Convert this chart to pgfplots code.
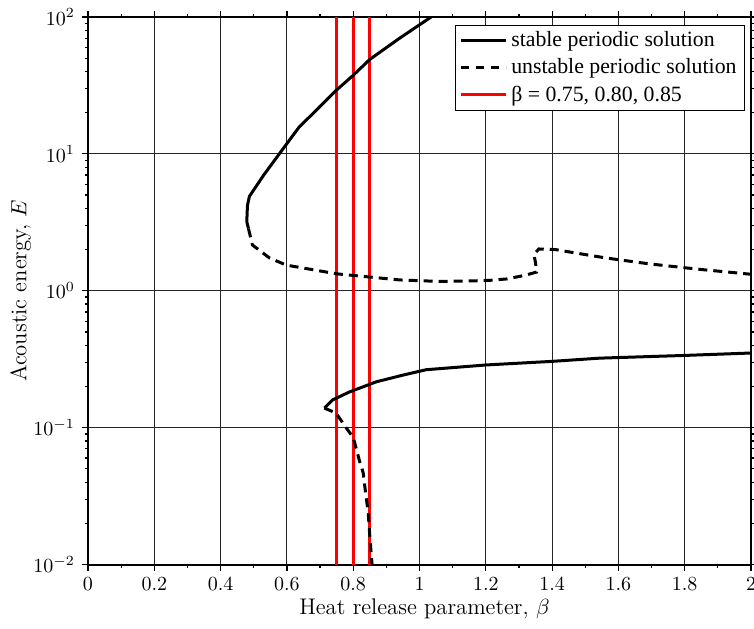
\documentclass[border=0pt]{standalone}
\usepackage{fontspec}
\newfontfamily\timesfont{Liberation Serif}
\usepackage{pgfplots}
\pgfplotsset{compat=1.18}
\begin{document}
\begin{tikzpicture}
\begin{axis}[
  scale only axis,
  width=331.5pt, height=273.75pt,
  xmin=0, xmax=2, ymode=log, ymin=1e-2, ymax=1e2,
  xtick={0,0.2,0.4,0.6,0.8,1,1.2,1.4,1.6,1.8,2},
  minor x tick num=1,
  ytick={1e-2,1e-1,1,1e1,1e2},
  grid=major,
  major grid style={black!85, line width=0.5pt},
  axis line style={line width=1pt},
  every tick/.style={black, line width=0.6pt},
  major tick length=3pt, minor tick length=1.5pt,
  tick align=outside,
  tick label style={font=\fontsize{10.4}{12}\selectfont},
  label style={font=\fontsize{11.3}{13}\selectfont},
  xlabel={Heat release parameter, $\beta$},
  ylabel={Acoustic energy, $E$},
  xlabel style={at={(axis description cs:0.5075,-0.049)}, anchor=north},
  ylabel style={at={(axis description cs:-0.0754,0.5)}, anchor=south},
  legend cell align=left,
  legend style={at={(axis description cs:0.991,0.9854)}, anchor=north east,
    draw=black, line width=0.5pt, fill=white,
    font=\timesfont\fontsize{10.9}{12.5}\selectfont,
    inner xsep=2pt, inner ysep=1pt, row sep=0.5pt},
  legend image code/.code={\draw[#1] (0pt,0pt) -- (22.5pt,0pt);},
]
\addlegendimage{black, line width=1.5pt}
\addlegendentry{stable periodic solution}
\addlegendimage{black, line width=1.5pt, dash pattern=on 4pt off 3.5pt}
\addlegendentry{unstable periodic solution}
\addlegendimage{red, line width=1.5pt}
\addlegendentry{β = 0.75, 0.80, 0.85}

% red vertical lines
\addplot[red, line width=1.5pt, forget plot] coordinates {(0.75,1e-2) (0.75,1e2)};
\addplot[red, line width=1.5pt, forget plot] coordinates {(0.80,1e-2) (0.80,1e2)};
\addplot[red, line width=1.5pt, forget plot] coordinates {(0.85,1e-2) (0.85,1e2)};

% upper stable branch
\addplot[black, line width=1.5pt, forget plot] coordinates {
 (0.484,2.85) (0.479,3.2) (0.481,4.2) (0.487,4.9) (0.53,7.0) (0.586,10.7)
 (0.636,15.6) (0.75,29.3) (0.80,37.5) (0.85,49) (0.94,70) (1.035,100)
};
% upper unstable branch
\addplot[black, line width=1.5pt, dash pattern=on 4.5pt off 3pt, forget plot] coordinates {
 (0.484,2.85) (0.496,2.16) (0.547,1.74) (0.598,1.54) (0.75,1.33) (0.94,1.2)
 (1.06,1.17) (1.155,1.18) (1.209,1.19) (1.263,1.22) (1.32,1.30) (1.353,1.37)
 (1.350,1.6) (1.345,1.85) (1.36,2.02) (1.41,2.0) (1.47,1.89) (1.56,1.74)
 (1.695,1.57) (1.85,1.43) (2.0,1.32)
};
% lower stable branch
\addplot[black, line width=1.5pt, forget plot] coordinates {
 (0.713,0.139) (0.737,0.159) (0.788,0.182) (0.869,0.216) (0.95,0.242)
 (1.02,0.265) (1.2,0.287) (1.4,0.305) (1.544,0.322) (1.8,0.337) (2.0,0.351)
};
% lower unstable branch
\addplot[black, line width=1.5pt, dash pattern=on 4.5pt off 3pt, forget plot] coordinates {
 (0.713,0.139) (0.748,0.128) (0.785,0.095) (0.80,0.085) (0.82,0.056)
 (0.83,0.047) (0.839,0.031) (0.845,0.0245) (0.851,0.015) (0.857,0.01)
};
\coordinate (sw) at (rel axis cs:0,0);
\coordinate (ne) at (rel axis cs:1,1);
\end{axis}
\pgfresetboundingbox
\path ([xshift=-44pt,yshift=-31.75pt]sw) rectangle ([xshift=1.5pt,yshift=8.5pt]ne);
\end{tikzpicture}
\end{document}
